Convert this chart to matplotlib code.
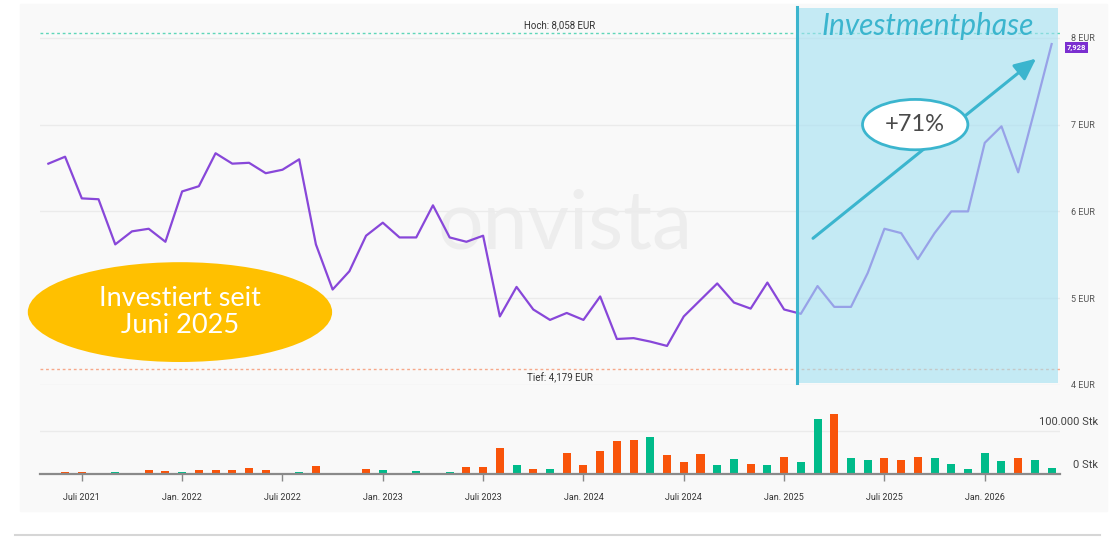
import matplotlib.pyplot as plt
import numpy as np
from matplotlib.patches import Ellipse, Rectangle

# monthly closes, May 2021 .. May 2026 (index 0 = May 2021)
price = [6.55, 6.63, 6.15, 6.14, 5.62, 5.77, 5.80, 5.65, 6.23, 6.29,
         6.67, 6.55, 6.56, 6.44, 6.48, 6.60, 5.62, 5.10, 5.31, 5.72,
         5.87, 5.70, 5.70, 6.07, 5.70, 5.65, 5.72, 4.79, 5.13, 4.87,
         4.75, 4.83, 4.75, 5.02, 4.53, 4.54, 4.50, 4.45, 4.79, 4.98,
         5.17, 4.95, 4.88, 5.18, 4.87, 4.82, 5.14, 4.90, 4.90, 5.29,
         5.80, 5.75, 5.45, 5.75, 6.00, 6.00, 6.79, 6.98, 6.45, 7.18,
         7.928]

# monthly volume in Stk, 'u' = green bar, 'd' = orange bar
volume = [0, 3800, 3800, 3000, 3800, 3000, 9200, 7700, 4600, 8500,
          8500, 8500, 13000, 8500, 3000, 3800, 18500, 3000, 3000, 11500,
          8500, 3000, 6900, 3000, 3800, 15400, 16900, 61500, 20800, 11500,
          11500, 47700, 20800, 53800, 77000, 78500, 85400, 43800, 27000, 45400,
          20800, 33800, 23100, 20800, 40000, 28500, 128500, 140000, 36200, 31500,
          36200, 31500, 40000, 37700, 23100, 11500, 47700, 29200, 37700, 33100,
          13000]
direction = ['d', 'd', 'd', 'u', 'u', 'u', 'd', 'd', 'u', 'd',
             'd', 'd', 'd', 'd', 'd', 'u', 'd', 'u', 'u', 'd',
             'u', 'd', 'u', 'u', 'u', 'd', 'd', 'd', 'u', 'd',
             'u', 'd', 'd', 'd', 'd', 'd', 'u', 'd', 'd', 'd',
             'u', 'u', 'd', 'u', 'd', 'u', 'u', 'd', 'u', 'u',
             'd', 'd', 'd', 'u', 'u', 'u', 'u', 'u', 'd', 'u',
             'u']

tick_pos = [2, 8, 14, 20, 26, 32, 38, 44, 50, 56]
tick_labels = ['Juli 2021', 'Jan. 2022', 'Juli 2022', 'Jan. 2023', 'Juli 2023',
               'Jan. 2024', 'Juli 2024', 'Jan. 2025', 'Juli 2025', 'Jan. 2026']
price_ticks = [4, 5, 6, 7, 8]
high, low = 8.058, 4.179
phase_start = 44.8

W, H = 1115, 537
plt.rcParams['font.family'] = ['Roboto', 'DejaVu Sans']

fig = plt.figure(figsize=(W / 100, H / 100), dpi=100)
fig.patch.set_facecolor('white')
fig.add_artist(Rectangle((20 / W, 1 - 511 / H), 1087 / W, 507 / H,
                         transform=fig.transFigure, color='#f9f9f9', zorder=0))
fig.add_artist(plt.Line2D([15 / W, 1100 / W], [1 - 535 / H] * 2,
                          color='#d6d6d6', lw=1.5))

x = np.arange(len(price))
xlim = (-0.5, 60.5)

# price panel
ax = fig.add_axes([40 / W, 1 - 385 / H, 1020 / W, 378 / H])
ax.patch.set_visible(False)
ax.set_xlim(xlim)
ax.set_ylim(4, 4 + 378 / 86.8)
for s in ax.spines.values():
    s.set_visible(False)
ax.set_xticks([])
ax.yaxis.tick_right()
ax.set_yticks(price_ticks)
ax.set_yticklabels([f'{v} EUR' for v in price_ticks])
ax.tick_params(axis='y', length=0, pad=8, labelsize=6.5, labelcolor='#555555')
ax.grid(axis='y', color='#ebebeb', lw=1)
ax.set_axisbelow(True)

ax.text(30.9, 5.84, 'onvista', fontsize=58, color='#ededed', ha='center',
        va='center', family='Lato', zorder=0)

ax.axhline(high, color='#5fd6b9', lw=1, ls=(0, (2, 2)), zorder=1)
ax.axhline(low, color='#f7a88a', lw=1, ls=(0, (2, 2)), zorder=1)
ax.text(30.6, high + 0.03, 'Hoch: 8,058 EUR', fontsize=7, color='#333333',
        ha='center', va='bottom')
ax.text(30.6, low - 0.03, 'Tief: 4,179 EUR', fontsize=7, color='#333333',
        ha='center', va='top')

ax.plot(x, price, color='#8847d9', lw=1.6, zorder=2)

# investment phase overlay
ax.add_patch(Rectangle((phase_start, 4.02), 60.39 - phase_start, 8.34 - 4.02,
                       color='#a2e0f2', alpha=0.6, lw=0, zorder=3))
ax.plot([phase_start, phase_start], [4.02, 8.355], color='#3bb5ce', lw=2.2,
        zorder=4, clip_on=False)
ax.text(52.6, 8.14, 'Investmentphase', fontsize=21.5, style='italic',
        color='#3bb5ce', ha='center', va='center', family='Lato', zorder=5)

ax.annotate('', xy=(59.2, 7.78), xytext=(45.6, 5.67),
            arrowprops=dict(arrowstyle='-|>,head_length=1.3,head_width=0.6',
                            color='#3bb5ce', lw=2.2), zorder=5)
ax.add_patch(Ellipse((51.84, 7.0), 6.3, 0.58, facecolor='white',
                     edgecolor='#3bb5ce', lw=2, zorder=6))
ax.text(51.84, 7.0, '+71%', fontsize=17, color='#4a4a4a', ha='center',
        va='center', family='Lato', zorder=7)

ax.add_patch(Ellipse((7.87, 4.84), 18.2, 1.15, facecolor='#ffc000',
                     edgecolor='none', zorder=6, clip_on=False))
ax.text(7.87, 4.84, 'Investiert seit\nJuni 2025', fontsize=19.5, color='white',
        ha='center', va='center', family='Lato', linespacing=1.12, zorder=7)

ax.text(1.007, price[-1] - 0.04, f'{price[-1]:.3f}'.replace('.', ','),
        transform=ax.get_yaxis_transform(), fontsize=5.5, color='white',
        fontweight='bold', ha='left', va='center', zorder=8,
        bbox=dict(boxstyle='square,pad=0.25', facecolor='#7b2fd0',
                  edgecolor='none'))

# volume panel
axv = fig.add_axes([40 / W, 1 - 474 / H, 1020 / W, 79 / H])
axv.patch.set_visible(False)
axv.set_xlim(xlim)
axv.set_ylim(0, 79 / 43 * 1e5)
for k in ['top', 'right', 'left']:
    axv.spines[k].set_visible(False)
axv.spines['bottom'].set_color('#8a8a8a')
axv.spines['bottom'].set_linewidth(1.6)
axv.axhline(100000, color='#ebebeb', lw=1, zorder=0)
colors = ['#00bb8a' if d == 'u' else '#f9540a' for d in direction]
axv.bar(x, volume, width=0.48, color=colors, zorder=2)
axv.set_yticks([])
axv.set_xticks(tick_pos)
axv.set_xticklabels(tick_labels)
axv.tick_params(axis='x', length=5, width=1, color='#888888', pad=9,
                labelsize=6.5, labelcolor='#333333')
for val, lab in [(100000, '100.000 Stk'), (0, '0 Stk')]:
    axv.annotate(lab, xy=(1.037, val), xycoords=axv.get_yaxis_transform(),
                 xytext=(0, 3), textcoords='offset points', fontsize=8,
                 color='#444444', ha='right', va='bottom', annotation_clip=False)

fig.savefig('out.png', dpi=100)
